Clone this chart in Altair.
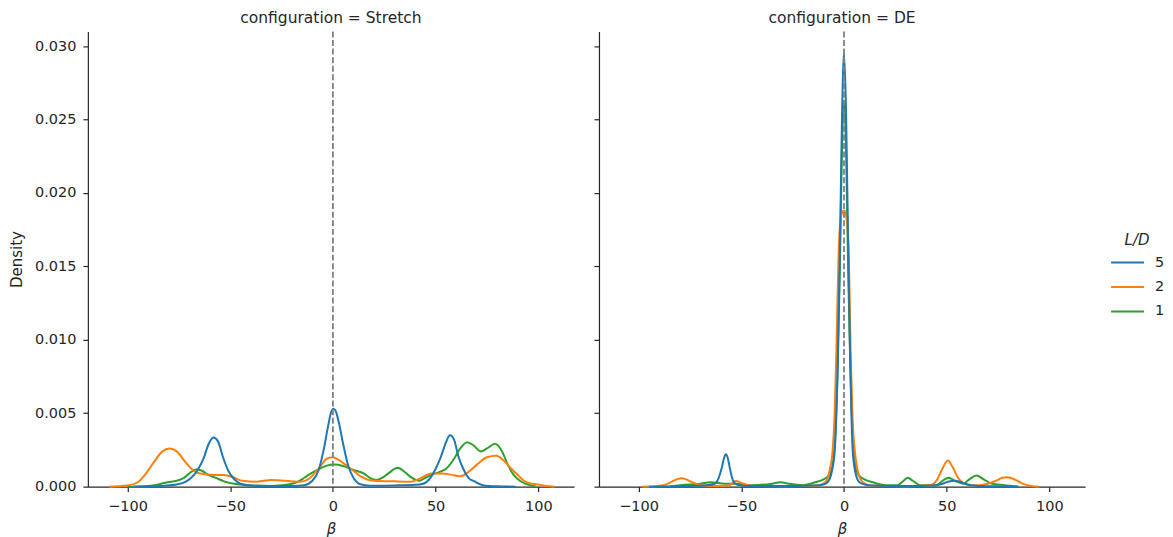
import altair as alt
import pandas as pd

# ---- Data (beta, density) ----
# configuration = Stretch
stretch_5 = [(-97, 0), (-88, 0.00002), (-82, 0.00006), (-76, 0.00015), (-72, 0.0003), (-69, 0.0006),
             (-66, 0.0011), (-63, 0.0019), (-60.5, 0.0029), (-58.2, 0.00335), (-56, 0.0031), (-53.5, 0.0020),
             (-51, 0.0011), (-48, 0.0005), (-45, 0.0002), (-40, 0.00008), (-30, 0.00004), (-20, 0.00005),
             (-14, 0.0001), (-10, 0.0004), (-7, 0.0011), (-4.5, 0.0025), (-2.5, 0.0040), (-1, 0.0050),
             (0.3, 0.0053), (1.5, 0.0051), (3, 0.0043), (5, 0.0029), (7.5, 0.0014), (10, 0.0006),
             (13, 0.00018), (18, 0.00006), (30, 0.00008), (40, 0.00012), (44, 0.0002), (47.5, 0.0006),
             (50, 0.0012), (52.5, 0.0020), (55, 0.0030), (57, 0.0035), (59, 0.0032), (61, 0.0021),
             (63.5, 0.0012), (66, 0.0006), (69, 0.00035), (73, 0.0001), (80, 0.00002), (89, 0)]
stretch_2 = [(-109, 0), (-100, 0.00008), (-95, 0.0003), (-91, 0.0009), (-87, 0.0017), (-83, 0.0024),
             (-79.5, 0.0026), (-76, 0.0024), (-72, 0.0017), (-68, 0.0011), (-64, 0.00087), (-58, 0.0008),
             (-53, 0.0008), (-48, 0.0006), (-44, 0.0004), (-37, 0.00034), (-30, 0.00045), (-23, 0.0004),
             (-16, 0.00034), (-12, 0.0005), (-9, 0.0009), (-6, 0.0014), (-3, 0.0019), (0, 0.0020),
             (3, 0.0018), (6, 0.0015), (9, 0.0012), (13.5, 0.0007), (20, 0.0004), (30, 0.00036),
             (38, 0.00034), (43, 0.0006), (48, 0.0009), (53, 0.0009), (58, 0.0008), (62, 0.0007),
             (66, 0.0010), (70.5, 0.00155), (75, 0.0020), (79.5, 0.0021), (83, 0.0018), (87, 0.0012),
             (90, 0.0008), (93, 0.0004), (97, 0.0002), (100, 0.00014), (104, 0.00005), (108, 0)]
stretch_1 = [(-100, 0), (-90, 0.00005), (-85, 0.00015), (-80.6, 0.0003), (-76, 0.0004), (-72.5, 0.0006),
             (-69, 0.0010), (-66.8, 0.00116), (-64, 0.0011), (-61, 0.00082), (-57, 0.0006), (-53, 0.00036),
             (-45, 0.00014), (-40, 0.00008), (-30, 0.00005), (-25, 0.0001), (-19, 0.00023), (-15, 0.0005),
             (-12.4, 0.00075), (-8, 0.0011), (-3, 0.00143), (1, 0.0015), (5, 0.0014), (10, 0.00114),
             (15, 0.0009), (18, 0.0006), (21, 0.00046), (24, 0.0006), (27, 0.0009), (31.5, 0.00128),
             (35, 0.0010), (38, 0.00065), (42, 0.0004), (45, 0.0006), (48, 0.0008), (52, 0.0010),
             (55, 0.0012), (59, 0.0019), (62, 0.0026), (65.4, 0.00303), (68.5, 0.0028), (72, 0.0024),
             (75, 0.0026), (79, 0.00292), (82, 0.0025), (85, 0.00155), (88, 0.0008), (91, 0.0004),
             (95, 0.00014), (99, 0)]

# configuration = DE
de_5 = [(-95, 0), (-80, 0.00003), (-68, 0.00008), (-63, 0.0002), (-61, 0.0006), (-59.5, 0.0013),
        (-58.5, 0.0019), (-57.5, 0.0022), (-56.5, 0.0019), (-55.5, 0.0012), (-54, 0.0004), (-52, 0.00012),
        (-48, 0.00005), (-30, 0.00004), (-15, 0.00008), (-10, 0.00015), (-8, 0.0003), (-6, 0.0010),
        (-4.5, 0.0025), (-3, 0.0088), (-2, 0.0160), (-1, 0.0250), (0, 0.0295), (1, 0.0255), (2, 0.0165),
        (3, 0.0088), (4.2, 0.0025), (5.5, 0.0010), (7.5, 0.0003), (10, 0.00015), (14, 0.00008),
        (30, 0.00004), (44, 0.00008), (48, 0.0002), (51, 0.00035), (54, 0.0004), (57, 0.0003),
        (60, 0.00015), (64, 0.00006), (72, 0.00002), (85, 0)]
de_2 = [(-98, 0), (-92, 0.00003), (-88, 0.0001), (-84, 0.00032), (-81, 0.00052), (-79, 0.00057),
        (-77, 0.0005), (-74, 0.0003), (-70, 0.00012), (-64, 0.00004), (-56, 0.0001), (-52.5, 0.00038),
        (-49, 0.0002), (-45, 0.00005), (-30, 0.00003), (-15, 0.00006), (-11, 0.00015), (-8.5, 0.0004),
        (-7, 0.0011), (-5.5, 0.0025), (-4.6, 0.0048), (-3.7, 0.0093), (-2.6, 0.0160), (-1.3, 0.0185),
        (0, 0.0188), (1.2, 0.0183), (2.3, 0.0160), (3.2, 0.0093), (4.2, 0.0045), (5.2, 0.0025),
        (6.5, 0.0012), (8.5, 0.0004), (11, 0.00015), (15, 0.00006), (30, 0.00003), (42, 0.0001),
        (45, 0.0004), (47.5, 0.0011), (50.5, 0.00178), (53, 0.0013), (55.5, 0.0006), (58, 0.00025),
        (62, 0.0001), (66, 0.0001), (70, 0.0002), (74, 0.0004), (77, 0.0006), (79, 0.00064),
        (82, 0.00055), (85, 0.00035), (88, 0.00015), (92, 0.00003), (95, 0)]
de_1 = [(-85, 0), (-80, 0.0001), (-70, 0.0002), (-65, 0.0003), (-58, 0.0002), (-52, 0.0002),
        (-45, 0.0001), (-35, 0.0002), (-31, 0.0003), (-27, 0.0002), (-20, 0.0001), (-14, 0.0003),
        (-10, 0.0005), (-7, 0.0008), (-5, 0.0020), (-3, 0.0085), (-2, 0.0150), (-1, 0.0230),
        (0, 0.0262), (1, 0.0230), (2, 0.0150), (3, 0.0085), (5, 0.0020), (7, 0.0008), (10, 0.0005),
        (14, 0.0003), (20, 0.0001), (26, 0.0001), (29, 0.0004), (31, 0.0006), (33.5, 0.0004),
        (37, 0.0001), (45, 0.0001), (48, 0.0004), (51, 0.0006), (54, 0.0004), (58, 0.0002),
        (61, 0.0005), (64.5, 0.00075), (68, 0.0005), (72, 0.0002), (78, 0.0001), (85, 0)]

ld_levels = ["5", "2", "1"]
ld_colors = ["#1f77b4", "#ff7f0e", "#2ca02c"]
x_ticks = [-100, -50, 0, 50, 100]
y_ticks = [0.0, 0.005, 0.010, 0.015, 0.020, 0.025, 0.030]

series = {
    "Stretch": [("1", stretch_1), ("2", stretch_2), ("5", stretch_5)],
    "DE": [("1", de_1), ("2", de_2), ("5", de_5)],
}

rows = []
for cfg, lst in series.items():
    for ld, pts in lst:
        for i, (b, d) in enumerate(pts):
            rows.append({"config": cfg, "LD": ld, "beta": b, "density": d, "ord": i})
df = pd.DataFrame(rows)

XDOM = [-119.3, 117.4]
YDOM = [0, 0.031]


def panel(cfg, first):
    sub = df[df.config == cfg]
    yaxis = alt.Axis(values=y_ticks, format=".3f", title="Density" if first else None,
                     labels=first, titleFontWeight="normal", labelPadding=7, titlePadding=10)
    lines = alt.Chart(sub).mark_line(strokeWidth=2, interpolate="monotone").encode(
        x=alt.X("beta:Q", scale=alt.Scale(domain=XDOM, nice=False, zero=False),
                axis=alt.Axis(values=x_ticks, title="β", titleFontStyle="italic",
                              titleFontWeight="normal", labelPadding=8, titlePadding=8)),
        y=alt.Y("density:Q", scale=alt.Scale(domain=YDOM, nice=False), axis=yaxis),
        color=alt.Color("LD:N", scale=alt.Scale(domain=ld_levels, range=ld_colors),
                        legend=alt.Legend(title="L/D", orient="none", legendX=1024, legendY=202,
                                          titleFontStyle="italic", titleFontWeight="normal",
                                          titleFontSize=15, labelFontSize=14.5, symbolType="stroke",
                                          symbolSize=1089, symbolStrokeWidth=2, titleAnchor="middle",
                                          titleAlign="center", labelOffset=10, rowPadding=0.5,
                                          titlePadding=-3, labelColor="#262626", titleColor="#262626")),
        order=alt.Order("ord:Q"),
        detail="LD:N",
    )
    rule = alt.Chart(pd.DataFrame({"x": [0]})).mark_rule(
        color="#808080", strokeWidth=1.8, strokeDash=[6, 2.6]).encode(x="x:Q")
    return alt.layer(lines, rule).properties(
        width=487, height=456,
        title=alt.TitleParams(f"configuration = {cfg}", anchor="middle"))


chart = alt.hconcat(panel("Stretch", True), panel("DE", False), spacing=19).properties(
    padding={"left": 1, "top": 2, "right": 0, "bottom": 0}
).configure_view(stroke=None).configure_axis(
    domainColor="#262626", tickColor="#262626", labelColor="#262626", titleColor="#262626",
    labelFont="DejaVu Sans", titleFont="DejaVu Sans", labelFontSize=14.5, titleFontSize=15,
    tickSize=5, grid=False, domainWidth=1.2, tickWidth=1.2
).configure_title(
    font="DejaVu Sans", fontSize=15.5, fontWeight="normal", color="#262626", offset=4
).configure_legend(
    labelFont="DejaVu Sans", titleFont="DejaVu Sans"
)

chart.save("out.html", embed_options={"renderer": "svg", "actions": False})
